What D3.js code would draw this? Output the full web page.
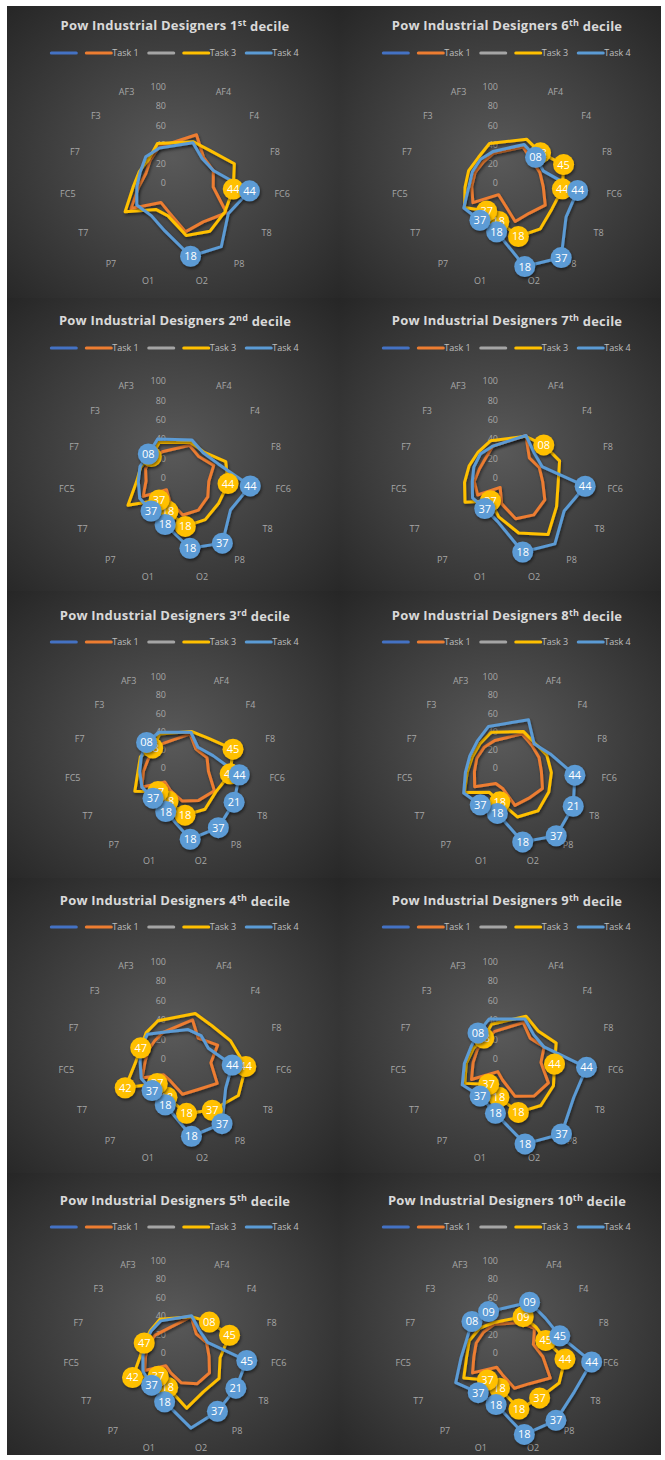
<!DOCTYPE html>
<html>
<head>
<meta charset="utf-8">
<script src="https://cdn.jsdelivr.net/npm/d3@7"></script>
<style>
  body { margin: 0; background: #fff; }
  svg { display: block; }
  text { font-family: "Open Sans", "Liberation Sans", sans-serif; }
</style>
</head>
<body>
<div id="chart"></div>
<script>
// electrode channels, clockwise from the (blank) top spoke
var channels = ["AF4", "F4", "F8", "FC6", "T8", "P8", "O2", "O1", "P7", "T7", "FC5", "F7", "F3", "AF3"];
var categories = [""].concat(channels);
var ticks = [0, 20, 40, 60, 80, 100];

var decileNums = ["1", "2", "3", "4", "5", "6", "7", "8", "9", "10"];
var decileSups = ["st", "nd", "rd", "th", "th", "th", "th", "th", "th", "th"];

var seriesNames = ["", "Task 1", "", "Task 3", "Task 4"];
var seriesColors = ["#4472C4", "#ED7D31", "#A5A5A5", "#FFC000", "#5B9BD5"];

// values per decile, in channel order
var task1 = [
  [55, 40, 42, 40, 62, 50, 52, 31, 25, 53, 38, 32, 35, 41],
  [37, 33, 42, 35, 39, 41, 39, 25, 15, 38, 30, 32, 32, 30],
  [41, 31, 37, 37, 50, 44, 37, 25, 19, 42, 35, 31, 31, 30],
  [44, 32, 46, 37, 50, 39, 37, 23, 20, 39, 31, 29, 28, 30],
  [43, 31, 36, 37, 43, 41, 33, 22, 17, 38, 32, 30, 29, 27],
  [41, 35, 36, 38, 46, 39, 41, 20, 15, 41, 37, 35, 33, 34],
  [48, 31, 35, 37, 45, 47, 43, 27, 12, 35, 34, 30, 30, 36],
  [41, 37, 37, 38, 45, 41, 42, 23, 21, 41, 36, 35, 34, 33],
  [41, 32, 40, 35, 49, 47, 39, 22, 16, 42, 35, 32, 30, 31],
  [36, 40, 30, 39, 54, 41, 39, 24, 19, 43, 36, 35, 34, 34]
];
var task3 = [
  [47, 50, 65, 61, 60, 62, 56, 35, 34, 60, 44, 39, 37, 45],
  [40, 40, 55, 55, 52, 53, 51, 35, 28, 56, 40, 37, 33, 40],
  [44, 49, 67, 61, 52, 56, 53, 37, 32, 51, 41, 40, 33, 41],
  [51, 51, 60, 73, 75, 65, 57, 40, 31, 59, 41, 37, 40, 43],
  [43, 50, 62, 49, 55, 52, 61, 38, 31, 53, 38, 35, 36, 40],
  [50, 47, 62, 58, 54, 59, 57, 41, 36, 51, 44, 42, 40, 45],
  [47, 51, 57, 53, 59, 72, 58, 41, 29, 50, 44, 41, 40, 42],
  [44, 41, 46, 49, 53, 58, 55, 38, 33, 54, 44, 40, 40, 43],
  [48, 43, 53, 49, 55, 59, 56, 40, 32, 50, 42, 36, 32, 39],
  [43, 42, 44, 63, 65, 60, 62, 39, 36, 54, 44, 43, 40, 36]
];
var task4 = [
  [46, 38, 42, 78, 64, 82, 78, 51, 42, 46, 40, 38, 41, 40],
  [43, 39, 47, 78, 66, 83, 74, 49, 42, 42, 38, 38, 37, 44],
  [43, 34, 44, 71, 75, 81, 80, 49, 41, 42, 39, 39, 42, 43],
  [33, 36, 36, 59, 60, 82, 81, 48, 40, 40, 36, 37, 38, 30],
  [44, 36, 37, 78, 76, 78, 83, 54, 43, 40, 35, 34, 35, 38],
  [44, 40, 40, 74, 71, 96, 89, 52, 48, 52, 40, 38, 37, 36],
  [48, 38, 38, 81, 68, 84, 78, 46, 39, 41, 36, 36, 37, 36],
  [58, 40, 50, 75, 84, 92, 83, 51, 50, 55, 46, 43, 44, 50],
  [45, 37, 40, 82, 79, 95, 89, 57, 47, 53, 44, 39, 40, 45],
  [60, 56, 60, 92, 84, 90, 90, 57, 53, 64, 50, 46, 51, 49]
];

// data label callouts (channel -> label text)
var task3Labels = [
  {FC6: "44"},
  {F3: "08", FC6: "44", O2: "18", O1: "18", P7: "37"},
  {F3: "08", F8: "45", FC6: "44", O2: "18", O1: "18", P7: "37"},
  {F7: "47", T7: "42", FC6: "44", P8: "37", O2: "18", O1: "18", P7: "37"},
  {F7: "47", T7: "42", F4: "08", F8: "45", O1: "18", P7: "37"},
  {F4: "08", F8: "45", FC6: "44", O2: "18", O1: "18", P7: "37"},
  {F4: "08", P7: "37"},
  {O1: "18"},
  {F3: "08", FC6: "44", O2: "18", O1: "18", P7: "37"},
  {AF4: "09", F8: "45", FC6: "44", P8: "37", O2: "18", O1: "18", P7: "37"}
];
var task4Labels = [
  {FC6: "44", O2: "18"},
  {F3: "08", FC6: "44", P8: "37", O2: "18", O1: "18", P7: "37"},
  {F3: "08", FC6: "44", T8: "21", P8: "37", O2: "18", O1: "18", P7: "37"},
  {FC6: "44", P8: "37", O2: "18", O1: "18", P7: "37"},
  {FC6: "45", T8: "21", P8: "37", O1: "18", P7: "37"},
  {F4: "08", FC6: "44", P8: "37", O2: "18", O1: "18", P7: "37"},
  {FC6: "44", O2: "18", P7: "37"},
  {FC6: "44", T8: "21", P8: "37", O2: "18", O1: "18", P7: "37"},
  {F3: "08", FC6: "44", P8: "37", O2: "18", O1: "18", P7: "37"},
  {F3: "08", AF3: "09", AF4: "09", F8: "45", FC6: "44", P8: "37", O2: "18", O1: "18", P7: "37"}
];

// layout of the grid of charts
var rows = [
  {top: 6, bottom: 298, title: 25, legend: 53, cy: 183, r: 96},
  {top: 298, bottom: 591, title: 320, legend: 348, cy: 478, r: 97},
  {top: 591, bottom: 878, title: 615, legend: 642, cy: 768, r: 91},
  {top: 878, bottom: 1173, title: 900, legend: 927, cy: 1059, r: 97.5},
  {top: 1173, bottom: 1455, title: 1200, legend: 1227, cy: 1353, r: 92.5}
];
var cols = [{x0: 7, x1: 339, cx: 175}, {x0: 339, x1: 661, cx: 507}];

var svg = d3.select("#chart").append("svg")
  .attr("width", 665)
  .attr("height", 1460);

var defs = svg.append("defs");
var grad = defs.append("radialGradient").attr("id", "bg")
  .attr("cx", "50%").attr("cy", "52%").attr("r", "72%");
grad.append("stop").attr("offset", "0%").attr("stop-color", "#595959");
grad.append("stop").attr("offset", "100%").attr("stop-color", "#262626");

defs.append("filter").attr("id", "shadow")
  .attr("x", "-20%").attr("y", "-20%").attr("width", "140%").attr("height", "140%")
  .append("feDropShadow")
    .attr("dx", 1).attr("dy", 2).attr("stdDeviation", 1.5)
    .attr("flood-color", "#000").attr("flood-opacity", 0.5);

var angle = d3.scaleLinear().domain([0, categories.length]).range([0, 2 * Math.PI]);
var taskData = [null, task1, null, task3, task4];
var taskLabels = [null, null, null, task3Labels, task4Labels];

decileNums.forEach(function(num, k) {
  var row = rows[k % 5], col = cols[Math.floor(k / 5)];
  var cx = col.cx, cy = row.cy;
  var r = d3.scaleLinear().domain([0, 100]).range([0, row.r]);

  var g = svg.append("g");

  g.append("rect")
    .attr("x", col.x0).attr("y", row.top)
    .attr("width", col.x1 - col.x0).attr("height", row.bottom - row.top)
    .attr("fill", "url(#bg)");

  // title
  var title = g.append("text")
    .attr("x", cx).attr("y", row.title)
    .attr("dy", "0.35em")
    .attr("text-anchor", "middle")
    .attr("fill", "#d9d9d9")
    .style("font-size", "13px")
    .style("font-weight", "bold")
    .style("letter-spacing", "0.2px");
  title.append("tspan").text("Pow Industrial Designers " + num);
  title.append("tspan").text(decileSups[k])
    .attr("dy", "-0.45em").style("font-size", "9px");
  title.append("tspan").text(" decile").attr("dy", "0.45em");

  // legend
  var legend = g.append("g");
  var lx = 0;
  seriesNames.forEach(function(name, i) {
    var item = legend.append("g").attr("transform", "translate(" + lx + ",0)");
    item.append("line")
      .attr("x1", 0).attr("x2", 25).attr("y1", 0).attr("y2", 0)
      .attr("stroke", seriesColors[i]).attr("stroke-width", 3)
      .attr("stroke-linecap", "round");
    var w = 25;
    if (name) {
      var t = item.append("text")
        .attr("x", 26).attr("y", 0).attr("dy", "0.35em")
        .attr("fill", "#bfbfbf")
        .style("font-size", "9px")
        .text(name);
      w = 26 + t.node().getComputedTextLength();
    }
    lx += w + 10;
  });
  legend.attr("transform", "translate(" + (cx - (lx - 10) / 2) + "," + row.legend + ")");

  // value axis labels
  g.selectAll(".tick")
    .data(ticks)
    .enter().append("text")
      .attr("x", cx - 9)
      .attr("y", function(d) { return cy - r(d); })
      .attr("dy", "0.35em")
      .attr("text-anchor", "end")
      .attr("fill", "#a6a6a6")
      .style("font-size", "9px")
      .text(function(d) { return d; });

  // category labels
  g.selectAll(".cat")
    .data(channels)
    .enter().append("text")
      .attr("x", function(d, i) { return cx + d3.pointRadial(angle(i + 1), row.r + 4)[0]; })
      .attr("y", function(d, i) { return cy + d3.pointRadial(angle(i + 1), row.r + 4)[1]; })
      .attr("dy", "0.35em")
      .attr("text-anchor", function(d, i) {
        var s = Math.sin(angle(i + 1));
        return s > 0.01 ? "start" : (s < -0.01 ? "end" : "middle");
      })
      .attr("fill", "#a6a6a6")
      .style("font-size", "9px")
      .text(function(d) { return d; });

  var plot = g.append("g").attr("transform", "translate(" + cx + "," + cy + ")");

  var line = d3.lineRadial()
    .angle(function(d, i) { return angle(i + 1); })
    .radius(function(d) { return r(d); })
    .curve(d3.curveLinearClosed);

  taskData.forEach(function(data, s) {
    if (!data) return;
    plot.append("path")
      .attr("d", line(data[k]))
      .attr("fill", "none")
      .attr("stroke", seriesColors[s])
      .attr("stroke-width", 3)
      .attr("stroke-linejoin", "round")
      .attr("filter", "url(#shadow)");
  });

  // data label callouts
  taskLabels.forEach(function(labels, s) {
    if (!labels) return;
    var pts = Object.keys(labels[k]).map(function(ch) {
      var idx = channels.indexOf(ch);
      var p = d3.pointRadial(angle(idx + 1), r(taskData[s][k][idx]));
      return {x: p[0], y: p[1], text: labels[k][ch]};
    });
    var lab = plot.append("g").selectAll("g")
      .data(pts)
      .enter().append("g")
        .attr("transform", function(d) { return "translate(" + d.x + "," + d.y + ")"; });
    lab.append("circle")
      .attr("r", 10.5)
      .attr("fill", seriesColors[s])
      .attr("filter", "url(#shadow)");
    lab.append("text")
      .attr("text-anchor", "middle")
      .attr("dy", "0.36em")
      .attr("fill", "#fff")
      .style("font-size", "11px")
      .text(function(d) { return d.text; });
  });
});
</script>
</body>
</html>
